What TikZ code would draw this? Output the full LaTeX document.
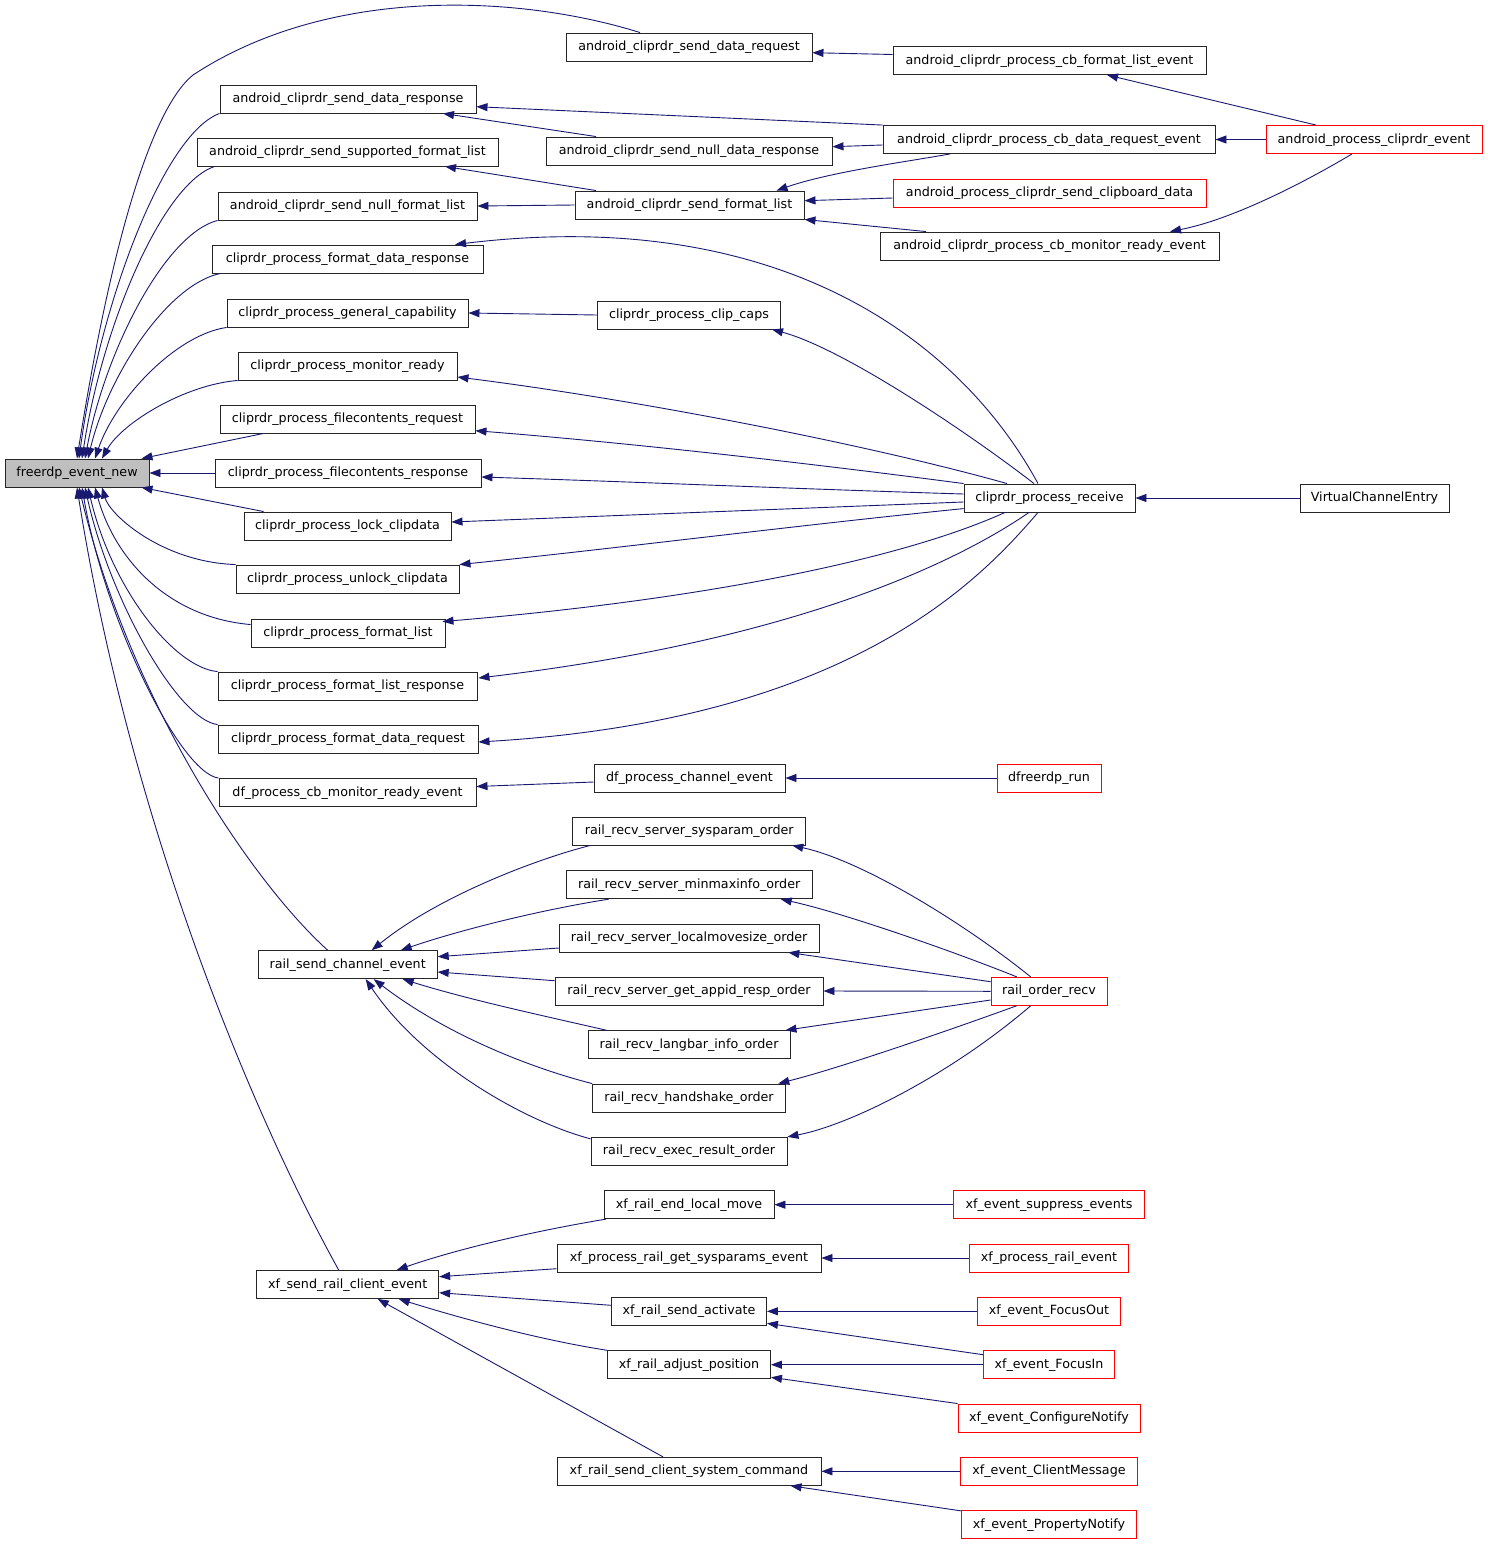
\documentclass[tikz,border=0pt]{standalone}
\usepackage{fontspec}
\setmainfont{DejaVu Sans}
\usetikzlibrary{arrows.meta,calc}
\definecolor{edgeblue}{RGB}{25,25,112}
\definecolor{fengray}{RGB}{191,191,191}
\definecolor{boxred}{RGB}{255,0,0}
\begin{document}
\begin{tikzpicture}[x=1pt,y=-1pt,
  box/.style={draw=black!85, line width=0.9pt, fill=white, rectangle, minimum height=28pt,
    inner xsep=1pt, inner ysep=0pt, text height=9.5pt, text depth=2.5pt,
    font=\fontsize{12.7}{15}\selectfont},
  redbox/.style={box, draw=boxred},
  edge/.style={draw=edgeblue, line width=0.9pt, -{Triangle[length=11pt,width=8pt]}}]
\fill[white] (0,0) rectangle (1488,1545);
\useasboundingbox (0,0) rectangle (1488,1545);

% ---------- nodes ----------
\node[box, fill=fengray, minimum width=144pt] (fen) at (77,473) {freerdp\_event\_new};

\node[box, minimum width=256pt] (sdresp) at (348,99) {android\_cliprdr\_send\_data\_response};
\node[box, minimum width=301pt] (ssfl) at (347.5,152) {android\_cliprdr\_send\_supported\_format\_list};
\node[box, minimum width=259pt] (snfl) at (347.5,206) {android\_cliprdr\_send\_null\_format\_list};
\node[box, minimum width=271pt] (pfdresp) at (347.5,259) {cliprdr\_process\_format\_data\_response};
\node[box, minimum width=241pt] (pgc) at (347.5,313) {cliprdr\_process\_general\_capability};
\node[box, minimum width=219pt] (pmr) at (347.5,366) {cliprdr\_process\_monitor\_ready};
\node[box, minimum width=255pt] (pfcreq) at (347.5,419) {cliprdr\_process\_filecontents\_request};
\node[box, minimum width=266pt] (pfcresp) at (348,473) {cliprdr\_process\_filecontents\_response};
\node[box, minimum width=207pt] (plock) at (347.5,526) {cliprdr\_process\_lock\_clipdata};
\node[box, minimum width=223pt] (punlock) at (347.5,579) {cliprdr\_process\_unlock\_clipdata};
\node[box, minimum width=194pt] (pfl) at (348,633) {cliprdr\_process\_format\_list};
\node[box, minimum width=259pt] (pflr) at (347.5,686) {cliprdr\_process\_format\_list\_response};
\node[box, minimum width=260pt] (pfdreq) at (348,739) {cliprdr\_process\_format\_data\_request};
\node[box, minimum width=257pt] (dfmr) at (347.5,792.5) {df\_process\_cb\_monitor\_ready\_event};
\node[box, minimum width=179pt] (rsce) at (347.7,964.7) {rail\_send\_channel\_event};
\node[box, minimum width=182pt] (xsrce) at (347.7,1284.5) {xf\_send\_rail\_client\_event};

\node[box, minimum width=246pt] (sdreq) at (689,47) {android\_cliprdr\_send\_data\_request};
\node[box, minimum width=286pt] (sndresp) at (689,151) {android\_cliprdr\_send\_null\_data\_response};
\node[box, minimum width=229pt] (sfl) at (689.5,205) {android\_cliprdr\_send\_format\_list};
\node[box, minimum width=183pt] (clipcaps) at (689,315) {cliprdr\_process\_clip\_caps};
\node[box, minimum width=191pt] (dfchan) at (689.5,778) {df\_process\_channel\_event};
\node[box, minimum width=233pt] (sysparam) at (689.3,831) {rail\_recv\_server\_sysparam\_order};
\node[box, minimum width=246pt] (minmax) at (689.2,884.7) {rail\_recv\_server\_minmaxinfo\_order};
\node[box, minimum width=260pt] (localmove) at (689.2,938) {rail\_recv\_server\_localmovesize\_order};
\node[box, minimum width=268pt] (appid) at (689,991) {rail\_recv\_server\_get\_appid\_resp\_order};
\node[box, minimum width=202pt] (langbar) at (689,1044.7) {rail\_recv\_langbar\_info\_order};
\node[box, minimum width=193pt] (handshake) at (689,1098) {rail\_recv\_handshake\_order};
\node[box, minimum width=196pt] (execres) at (689,1151.3) {rail\_recv\_exec\_result\_order};
\node[box, minimum width=170pt] (endlm) at (689,1204.7) {xf\_rail\_end\_local\_move};
\node[box, minimum width=264pt] (getsys) at (689,1258) {xf\_process\_rail\_get\_sysparams\_event};
\node[box, minimum width=155pt] (sendact) at (689,1311.3) {xf\_rail\_send\_activate};
\node[box, minimum width=163pt] (adjpos) at (689,1364.7) {xf\_rail\_adjust\_position};
\node[box, minimum width=264pt] (syscmd) at (689,1471.3) {xf\_rail\_send\_client\_system\_command};

\node[box, minimum width=313pt] (cbfl) at (1049.5,60.5) {android\_cliprdr\_process\_cb\_format\_list\_event};
\node[box, minimum width=332pt] (cbdr) at (1049,139.5) {android\_cliprdr\_process\_cb\_data\_request\_event};
\node[redbox, minimum width=313pt] (sendclip) at (1049.5,193) {android\_process\_cliprdr\_send\_clipboard\_data};
\node[box, minimum width=339pt] (cbmr) at (1049.5,246) {android\_cliprdr\_process\_cb\_monitor\_ready\_event};
\node[box, minimum width=171pt] (recv) at (1049.5,498) {cliprdr\_process\_receive};
\node[redbox, minimum width=104pt] (dfrun) at (1049,778) {dfreerdp\_run};
\node[redbox, minimum width=116pt] (rorecv) at (1049,991.3) {rail\_order\_recv};
\node[redbox, minimum width=191pt] (suppress) at (1049,1204.7) {xf\_event\_suppress\_events};
\node[redbox, minimum width=159pt] (prailev) at (1049,1258) {xf\_process\_rail\_event};
\node[redbox, minimum width=143pt] (focusout) at (1049,1311.3) {xf\_event\_FocusOut};
\node[redbox, minimum width=131pt] (focusin) at (1049,1364.7) {xf\_event\_FocusIn};
\node[redbox, minimum width=182pt] (confnot) at (1049,1418) {xf\_event\_ConfigureNotify};
\node[redbox, minimum width=177pt] (clientmsg) at (1049,1471.3) {xf\_event\_ClientMessage};
\node[redbox, minimum width=175pt] (propnot) at (1049,1524.7) {xf\_event\_PropertyNotify};

\node[redbox, minimum width=216pt] (apce) at (1374,139.5) {android\_process\_cliprdr\_event};
\node[box, minimum width=149pt] (vce) at (1374.5,498) {VirtualChannelEntry};

% ---------- edges into freerdp_event_new ----------
\draw[edge] ([xshift=-49pt]sdreq.north) .. controls (520,-5) and (330,-15) .. (193,75) .. controls (150,110) and (110,250) .. (fen.north);
\draw[edge] (sdresp.south west) .. controls (164,134) and (100,303) .. ([xshift=2pt]fen.north);
\draw[edge] ([xshift=18pt]ssfl.south west) .. controls (162,184) and (102,327) .. ([xshift=5pt]fen.north);
\draw[edge] (snfl.south west) .. controls (165,234) and (105,351) .. ([xshift=8pt]fen.north);
\draw[edge] ([xshift=9pt]pfdresp.south west) .. controls (168,284) and (108,375) .. ([xshift=11pt]fen.north);
\draw[edge] (pgc.south west) .. controls (175,335) and (115,400) .. ([xshift=18pt]fen.north);
\draw[edge] (pmr.south west) .. controls (184,385) and (122,423) .. ([xshift=25pt]fen.north);
\draw[edge] ([xshift=44pt]pfcreq.south west) -- ([xshift=-8pt]fen.north east);
\draw[edge] (pfcresp.west) -- (fen.east);
\draw[edge] ([xshift=20pt]plock.north west) -- ([xshift=-8pt]fen.south east);
\draw[edge] (punlock.north west) .. controls (162,562) and (110,515) .. ([xshift=25pt]fen.south);
\draw[edge] ($(pfl.north west)+(0,6)$) .. controls (165,617) and (114,556) .. ([xshift=18pt]fen.south);
\draw[edge] (pflr.north west) .. controls (175,668) and (112,590) .. ([xshift=11pt]fen.south);
\draw[edge] (pfdreq.north west) .. controls (178,720) and (110,600) .. ([xshift=8pt]fen.south);
\draw[edge] (dfmr.north west) .. controls (180,773) and (105,620) .. ([xshift=5pt]fen.south);
\draw[edge] ([xshift=-20pt]rsce.north) .. controls (250,880) and (130,700) .. ([xshift=2pt]fen.south);
\draw[edge] ([xshift=-9pt]xsrce.north) .. controls (250,1110) and (130,820) .. (fen.south);

% ---------- android edges ----------
\draw[edge] (cbdr.north west) -- ($(sdresp.east)+(0,7.7)$);
\draw[edge] ([xshift=-93pt]sndresp.north) -- ([xshift=95pt]sdresp.south);
\draw[edge] ($(cbdr.west)+(0,5.5)$) -- ($(sndresp.east)+(0,-4.3)$);
\draw[edge] ([xshift=-93.5pt]sfl.north) -- ([xshift=97.5pt]ssfl.south);
\draw[edge] (sfl.west) -- (snfl.east);
\draw[edge] ($(cbfl.west)+(0,-6)$) -- ($(sdreq.east)+(0,5.7)$);
\draw[edge] ([xshift=-99pt]cbdr.south) .. controls (905,162) and (830,172) .. ([xshift=87pt]sfl.north);
\draw[edge] ($(sendclip.west)+(0,5)$) -- ($(sfl.east)+(0,-4.3)$);
\draw[edge] ([xshift=-123.5pt]cbmr.north) -- (sfl.south east);
\draw[edge] ([xshift=-58pt]apce.north) -- ([xshift=57.5pt]cbfl.south);
\draw[edge] (apce.west) -- (cbdr.east);
\draw[edge] ([xshift=-22pt]apce.south) .. controls (1300,185) and (1230,220) .. ([xshift=120.5pt]cbmr.north);

% ---------- cliprdr_process_receive edges ----------
\draw[edge] (clipcaps.west) -- (pgc.east);
\draw[edge] ([xshift=-11.5pt]recv.north) .. controls (960,340) and (780,205) .. ([xshift=107.5pt]pfdresp.north);
\draw[edge] ([xshift=-15.5pt]recv.north) .. controls (974,437) and (845,349) .. ([xshift=83pt]clipcaps.south);
\draw[edge] ([xshift=-42.5pt]recv.north) .. controls (870,445) and (640,400) .. ($(pmr.east)+(0,11)$);
\draw[edge] (recv.north west) .. controls (800,462) and (620,442) .. ($(pfcreq.east)+(0,11.7)$);
\draw[edge] ($(recv.west)+(0,-4)$) .. controls (800,489) and (640,482) .. ($(pfcresp.east)+(0,4)$);
\draw[edge] ($(recv.west)+(0,4)$) -- ($(plock.east)+(0,-4)$);
\draw[edge] ($(recv.west)+(0,10.6)$) .. controls (800,525) and (620,548) .. (punlock.north east);
\draw[edge] ([xshift=-44.5pt]recv.south) .. controls (900,560) and (700,600) .. ($(pfl.north east)+(-3,3)$);
\draw[edge] ([xshift=-20.5pt]recv.south) .. controls (960,560) and (800,640) .. ($(pflr.east)+(1,-8)$);
\draw[edge] ([xshift=-11.5pt]recv.south) .. controls (980,580) and (850,720) .. ($(pfdreq.east)+(0,3)$);
\draw[edge] (vce.west) -- (recv.east);
\draw[edge] ($(dfchan.west)+(0,4)$) -- ($(dfmr.east)+(0,-6)$);
\draw[edge] (dfrun.west) -- (dfchan.east);

% ---------- rail edges ----------
\draw[edge] ([xshift=18pt]sysparam.south west) .. controls (540,858) and (440,895) .. ([xshift=24pt]rsce.north);
\draw[edge] ([xshift=43pt]minmax.south west) .. controls (540,910) and (460,930) .. ([xshift=53pt]rsce.north);
\draw[edge] ($(localmove.west)+(0,10)$) -- ($(rsce.east)+(0,-8)$);
\draw[edge] ($(appid.west)+(0,-10.3)$) -- ($(rsce.east)+(0,7.3)$);
\draw[edge] ([xshift=19pt]langbar.north west) .. controls (540,1015) and (470,1000) .. ([xshift=55pt]rsce.south);
\draw[edge] (handshake.north west) .. controls (520,1065) and (440,1030) .. ([xshift=26pt]rsce.south);
\draw[edge] ($(execres.north west)+(0,2)$) .. controls (520,1120) and (420,1060) .. ([xshift=18pt]rsce.south);
\draw[edge] ([xshift=-18.3pt]rorecv.north) .. controls (960,920) and (860,860) .. ([xshift=-14pt]sysparam.south east);
\draw[edge] ([xshift=-32.3pt]rorecv.north) .. controls (950,950) and (840,912) .. ([xshift=-32pt]minmax.south east);
\draw[edge] ($(rorecv.west)+(0,-9.6)$) -- ([xshift=-31.4pt]localmove.south east);
\draw[edge] (rorecv.west) -- (appid.east);
\draw[edge] ($(rorecv.west)+(0,8.7)$) -- ([xshift=-5pt]langbar.north east);
\draw[edge] ([xshift=-32.3pt]rorecv.south) .. controls (950,1030) and (840,1068) .. ([xshift=-7.7pt]handshake.north east);
\draw[edge] ([xshift=-18.3pt]rorecv.south) .. controls (950,1075) and (850,1125) .. (execres.north east);

% ---------- xf edges ----------
\draw[edge] ([xshift=2.3pt]endlm.south west) .. controls (540,1230) and (460,1248) .. ([xshift=49pt]xsrce.north);
\draw[edge] ($(getsys.west)+(0,10.7)$) -- ($(xsrce.east)+(0,-7.8)$);
\draw[edge] ($(sendact.west)+(0,-6)$) -- ($(xsrce.east)+(0,8.2)$);
\draw[edge] (adjpos.north west) .. controls (540,1340) and (460,1318) .. ([xshift=51pt]xsrce.south);
\draw[edge] ([xshift=-26pt]syscmd.north) -- ([xshift=30pt]xsrce.south);
\draw[edge] (suppress.west) -- (endlm.east);
\draw[edge] (prailev.west) -- (getsys.east);
\draw[edge] (focusout.west) -- (sendact.east);
\draw[edge] ($(focusin.west)+(0,-10)$) -- ($(sendact.east)+(0,12)$);
\draw[edge] (focusin.west) -- (adjpos.east);
\draw[edge] (confnot.north west) -- ($(adjpos.east)+(0,12.6)$);
\draw[edge] (clientmsg.west) -- (syscmd.east);
\draw[edge] ($(propnot.north west)+(0,0.6)$) -- ([xshift=-31pt]syscmd.south east);
\end{tikzpicture}
\end{document}
